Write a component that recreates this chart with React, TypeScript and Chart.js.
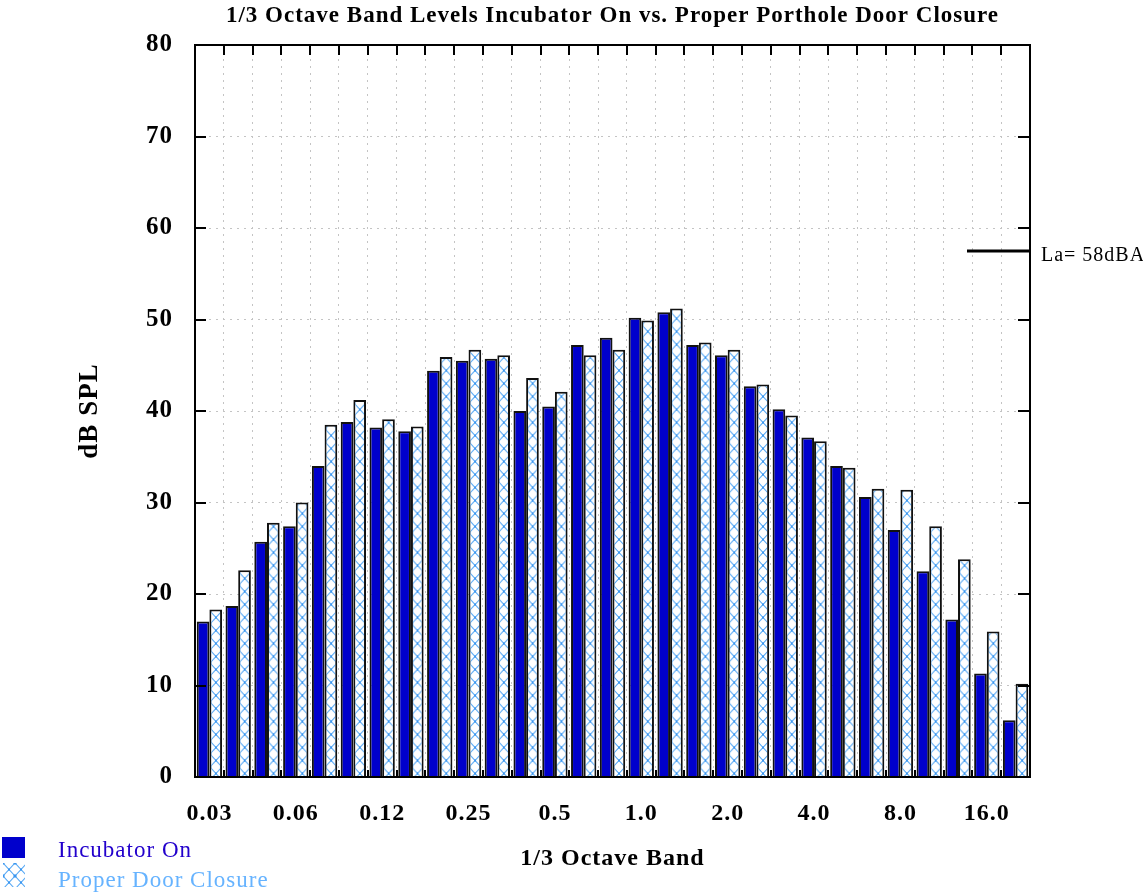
import React, { useEffect, useRef } from 'react';
import { Chart, registerables } from 'chart.js';

Chart.register(...registerables);

// ---- data ----
const bands = ['0.0315', '0.04', '0.05', '0.063', '0.08', '0.1', '0.125', '0.16', '0.2', '0.25', '0.315', '0.4', '0.5', '0.63', '0.8', '1.0', '1.25', '1.6', '2.0', '2.5', '3.15', '4.0', '5.0', '6.3', '8.0', '10.0', '12.5', '16.0', '20.0'];
const tickLabels = ['0.03', '0.06', '0.12', '0.25', '0.5', '1.0', '2.0', '4.0', '8.0', '16.0'];
const incubatorOn = [17.0, 18.7, 25.7, 27.4, 34.0, 38.8, 38.2, 37.8, 44.4, 45.5, 45.7, 40.0, 40.5, 47.2, 48.0, 50.2, 50.8, 47.2, 46.1, 42.7, 40.2, 37.1, 34.0, 30.6, 27.0, 22.5, 17.2, 11.3, 6.2];
const properDoorClosure = [18.3, 22.6, 27.8, 30.0, 38.5, 41.2, 39.1, 38.3, 45.9, 46.7, 46.1, 43.6, 42.1, 46.1, 46.7, 49.9, 51.2, 47.5, 46.7, 42.9, 39.5, 36.7, 33.8, 31.5, 31.4, 27.4, 23.8, 15.9, 10.2];
const yTickValues = [0, 10, 20, 30, 40, 50, 60, 70, 80];
const laLevel = 57.5;
const laLabel = 'La= 58dBA';
const titleText = '1/3 Octave Band Levels Incubator On vs. Proper Porthole Door Closure';
const xTitle = '1/3 Octave Band';
const yTitle = 'dB SPL';
const seriesNames = ['Incubator On', 'Proper Door Closure'];

const SERIF = '"Liberation Serif", "Times New Roman", serif';
const DARK = '#0000cc';

function makeTile(): HTMLCanvasElement {
  const c = document.createElement('canvas');
  c.width = 12;
  c.height = 13;
  const g = c.getContext('2d')!;
  g.fillStyle = '#ffffff';
  g.fillRect(0, 0, 12, 13);
  g.strokeStyle = '#5aaaf5';
  g.lineWidth = 1.1;
  g.beginPath();
  g.moveTo(0, 0);
  g.lineTo(12, 13);
  g.moveTo(12, 0);
  g.lineTo(0, 13);
  g.stroke();
  g.fillStyle = '#3a96f0';
  g.fillRect(5, 5.5, 2, 2);
  g.fillRect(0, 0, 1.5, 1.5);
  g.fillRect(10.5, 0, 1.5, 1.5);
  g.fillRect(0, 11.5, 1.5, 1.5);
  g.fillRect(10.5, 11.5, 1.5, 1.5);
  return c;
}

export default function App() {
  const ref = useRef<HTMLCanvasElement | null>(null);

  useEffect(() => {
    const canvas = ref.current;
    if (!canvas) return;
    const tile = makeTile();
    const basePattern = canvas.getContext('2d')!.createPattern(tile, 'repeat')!;

    const decorPlugin = {
      id: 'decor',
      beforeUpdate(chart: any) {
        chart.ctx.letterSpacing = '1px';
      },
      beforeDraw(chart: any) {
        chart.ctx.letterSpacing = '1px';
      },
      afterDraw(chart: any) {
        const ctx: CanvasRenderingContext2D = chart.ctx;
        const { left, right, top, bottom } = chart.chartArea;
        const y = chart.scales.y;
        ctx.save();
        ctx.letterSpacing = '1px';
        // frame
        ctx.strokeStyle = '#000';
        ctx.lineWidth = 2;
        ctx.strokeRect(left, top, right - left, bottom - top);
        // inward ticks
        const n = bands.length;
        const cw = (right - left) / n;
        ctx.beginPath();
        for (let i = 1; i < n; i++) {
          const px = Math.round(left + i * cw);
          ctx.moveTo(px, top);
          ctx.lineTo(px, top + 10);
          ctx.moveTo(px, bottom);
          ctx.lineTo(px, bottom - 7);
        }
        for (const v of yTickValues) {
          const py = Math.round(y.getPixelForValue(v));
          ctx.moveTo(left, py);
          ctx.lineTo(left + 11, py);
          ctx.moveTo(right, py);
          ctx.lineTo(right - 12, py);
        }
        ctx.stroke();
        // La line
        const ly = y.getPixelForValue(laLevel);
        ctx.lineWidth = 3;
        ctx.beginPath();
        ctx.moveTo(right - 63, ly);
        ctx.lineTo(right, ly);
        ctx.stroke();
        ctx.fillStyle = '#000';
        ctx.font = `20px ${SERIF}`;
        ctx.textAlign = 'left';
        ctx.textBaseline = 'middle';
        ctx.fillText(laLabel, right + 11, ly + 5);
        // title
        ctx.font = `bold 23px ${SERIF}`;
        ctx.textAlign = 'center';
        ctx.textBaseline = 'alphabetic';
        ctx.fillText(titleText, (left + right) / 2, 22);
        // legend
        ctx.fillStyle = DARK;
        ctx.fillRect(2, 837, 23, 21);
        const p = ctx.createPattern(tile, 'repeat')!;
        p.setTransform(new DOMMatrix().translate(3, 863));
        ctx.fillStyle = p;
        ctx.fillRect(3, 863, 22, 24);
        ctx.font = `23px ${SERIF}`;
        ctx.textAlign = 'left';
        ctx.fillStyle = '#2200cc';
        ctx.fillText(seriesNames[0], 58, 857);
        ctx.fillStyle = '#66b3ff';
        ctx.fillText(seriesNames[1], 58, 887);
        ctx.restore();
      },
    };

    const chart = new Chart(canvas, {
      type: 'bar',
      data: {
        labels: bands,
        datasets: [
          {
            label: seriesNames[0],
            data: incubatorOn,
            backgroundColor: DARK,
            borderColor: '#111',
            borderWidth: 2,
            categoryPercentage: 0.88,
            barPercentage: 1,
          },
          {
            label: seriesNames[1],
            data: properDoorClosure,
            backgroundColor: (c: any) => {
              const xs = c.chart.scales && c.chart.scales.x;
              if (c.type !== 'data' || !xs) return basePattern;
              const center = xs.getPixelForValue(c.dataIndex);
              const pat = c.chart.ctx.createPattern(tile, 'repeat');
              pat.setTransform(new DOMMatrix().translate(center + 0.5, 0));
              return pat;
            },
            borderColor: '#111',
            borderWidth: 2,
            categoryPercentage: 0.88,
            barPercentage: 1,
          },
        ],
      },
      options: {
        responsive: false,
        devicePixelRatio: 1,
        animation: false,
        layout: { padding: { top: 45, right: 113, left: 0, bottom: 0 } },
        plugins: {
          legend: { display: false },
          title: { display: false },
          tooltip: { enabled: false },
        },
        scales: {
          x: {
            type: 'category',
            offset: true,
            grid: { offset: true, color: '#c4c4c4', lineWidth: 1, drawTicks: false },
            border: { display: false, dash: [2, 5] },
            ticks: {
              autoSkip: false,
              maxRotation: 0,
              minRotation: 0,
              padding: 22,
              color: '#000',
              font: { family: SERIF, size: 24, weight: 'bold' },
              callback: (_v: any, i: number) => (i % 3 === 0 ? tickLabels[i / 3] : ''),
            },
            title: {
              display: true,
              text: xTitle,
              color: '#000',
              font: { family: SERIF, size: 24, weight: 'bold' },
              padding: { top: 0, bottom: 19 },
            },
            afterFit: (s: any) => {
              s.height = 115;
            },
          },
          y: {
            min: 0,
            max: 80,
            grid: { color: '#c4c4c4', lineWidth: 1, drawTicks: false },
            border: { display: false, dash: [2, 5] },
            ticks: {
              stepSize: 10,
              padding: 22,
              color: '#000',
              font: { family: SERIF, size: 25, weight: 'bold' },
            },
            title: {
              display: true,
              text: yTitle,
              color: '#000',
              font: { family: SERIF, size: 27, weight: 'bold' },
              padding: { top: 74, bottom: 0 },
            },
            afterFit: (s: any) => {
              s.width = 195;
            },
          },
        },
      },
      plugins: [decorPlugin],
    } as any);

    return () => chart.destroy();
  }, []);

  return (
    <div style={{ position: 'fixed', left: 0, top: 0, width: 1143, height: 892, background: '#fff' }}>
      <canvas ref={ref} width={1143} height={892} style={{ display: 'block', width: 1143, height: 892 }} />
    </div>
  );
}
